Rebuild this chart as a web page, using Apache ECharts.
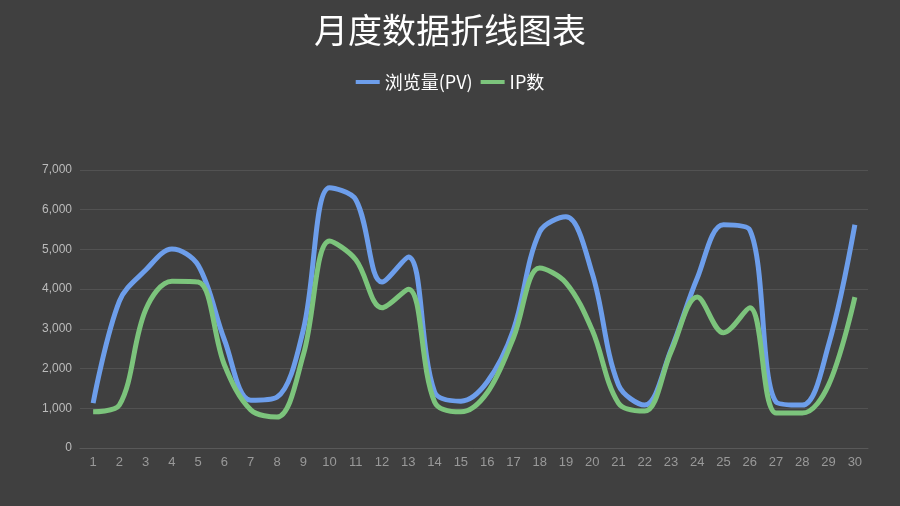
<!DOCTYPE html>
<html><head><meta charset="utf-8">
<script src="https://cdn.jsdelivr.net/npm/echarts@6/dist/echarts.min.js"></script>
<style>html,body{margin:0;padding:0;background:#404040}#c{width:900px;height:506px}</style>
</head><body><div id="c"></div>
<script>
const categories = Array.from({length:30},(_,i)=>String(i+1));
const pv = [1130,3700,4480,5010,4600,2720,1200,1280,2970,6550,6250,4180,4810,1410,1180,1660,2970,5440,5820,4400,1590,1080,2470,4280,5620,5490,1160,1080,2600,5620];
const ip = [910,1080,3480,4200,4180,2090,960,780,2340,5210,4740,3530,4000,1160,910,1390,2770,4530,4160,2970,1130,930,2420,3800,2900,3530,880,880,1590,3800];
const chart = echarts.init(document.getElementById('c'));
chart.setOption({
  backgroundColor:'#404040',
  title:{text:'月度数据折线图表',left:'center',top:8,textStyle:{color:'#fff',fontSize:34,fontWeight:'normal',fontFamily:'Noto Sans CJK SC'}},
  legend:{top:68,itemWidth:24,itemHeight:4,icon:'rect',textStyle:{color:'#fff',fontSize:18,fontFamily:'Noto Sans CJK SC'},data:['浏览量(PV)','IP数']},
  grid:{left:80,right:32,top:170,bottom:58},
  xAxis:{type:'category',data:categories,boundaryGap:true,axisLine:{lineStyle:{color:'#595959'}},axisTick:{show:false},axisLabel:{color:'#999',fontSize:13}},
  yAxis:{type:'value',min:0,max:7000,interval:1000,axisLabel:{color:'#bbb',fontSize:12,formatter:v=>v.toLocaleString('en-US')},splitLine:{lineStyle:{color:'#525252'}},axisLine:{show:false}},
  series:[
    {name:'浏览量(PV)',type:'line',smooth:0.35,data:pv,symbol:'none',lineStyle:{width:5,color:'#6d9eeb'},itemStyle:{color:'#6d9eeb'}},
    {name:'IP数',type:'line',smooth:0.35,data:ip,symbol:'none',lineStyle:{width:5,color:'#7cc47c'},itemStyle:{color:'#7cc47c'}}
  ]
});
</script></body></html>
